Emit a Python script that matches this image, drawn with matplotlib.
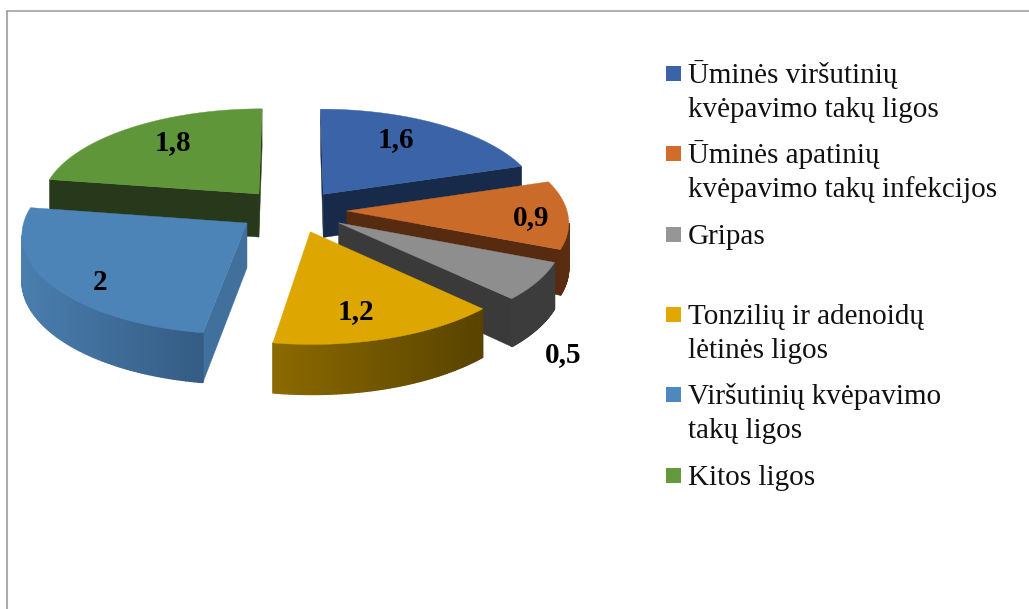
import numpy as np
import matplotlib
matplotlib.use("Agg")
import matplotlib.pyplot as plt
from matplotlib.colors import to_rgb
from matplotlib.patches import Rectangle

categories = ["Ūminės viršutinių\nkvėpavimo takų ligos",
              "Ūminės apatinių\nkvėpavimo takų infekcijos",
              "Gripas",
              "Tonzilių ir adenoidų\nlėtinės ligos",
              "Viršutinių kvėpavimo\ntakų ligos",
              "Kitos ligos"]
values = [1.6, 0.9, 0.5, 1.2, 2, 1.8]
top_colors = ["#3A63A8", "#CB6B2A", "#8E8E8E", "#DDA600", "#4C84B8", "#60963A"]
legend_colors = ["#3A63A8", "#D26C2A", "#969696", "#E2A800", "#4F88BE", "#649A3C"]
wall_left = ["#172A4A", "#5A2D10", "#3C3C3C", "#8C6A00", "#4A7EAE", "#27391A"]
wall_right = ["#172A4A", "#5A2D10", "#3C3C3C", "#584300", "#345C84", "#27391A"]
radial_colors = ["#172A4A", "#572B10", "#3A3A3A", "#584300", "#41709D", "#27391A"]
legend_y = [73.5, 153.5, 234.5, 314.5, 394.5, 475.5]
label_xy = [(396, 139), (531, 217), (563, 354), (356, 311), (100, 281), (173, 142)]
explode = [0.23, 0.24, 0.235, 0.22, 0.26, 0.25]
nudge = [(-1, 0), (-1, -2), (0, -2), (0, -1), (-1, -4), (-1, 0)]

CX, CY, RX, RY, P, DEPTH = 295, 212, 220, 97, 0.10, 44
SERIF = "Liberation Serif"

fig = plt.figure(figsize=(10.29, 6.09), dpi=100)
ax = fig.add_axes([0, 0, 1, 1])
ax.set_xlim(0, 1029)
ax.set_ylim(609, 0)
ax.axis("off")

ax.plot([6.5, 6.5], [609, 10.5], color="#ABABAB", lw=1.5, solid_capstyle="butt", zorder=1)
ax.plot([6, 1029], [10.5, 10.5], color="#9A9A9A", lw=1.1, solid_capstyle="butt", zorder=1)


def project(theta, r, mid, e, off, z=0.0):
    X = e * np.sin(mid) + r * np.sin(theta)
    Y = -(e * np.cos(mid) + r * np.cos(theta))
    s = 1.0 / (1.0 - P * Y)
    return np.array([CX + off[0] + X * RX * s, CY + off[1] + Y * RY * s + z * DEPTH * s])


def area(poly):
    p = np.asarray(poly)
    q = np.roll(p, -1, axis=0)
    return np.sum(p[:, 0] * q[:, 1] - q[:, 0] * p[:, 1])


angles = np.cumsum([0] + list(values)) / np.sum(values) * 2 * np.pi
slices = []
for i in range(len(values)):
    a0, a1 = angles[i], angles[i + 1]
    mid = (a0 + a1) / 2
    slices.append((-np.cos(mid), i, a0, a1, mid))

z = 2.0
for _, i, a0, a1, mid in sorted(slices):
    e, off = explode[i], nudge[i]
    th = np.linspace(a0, a1, 90)
    apex_t = project(a0, 0, mid, e, off)
    apex_b = project(a0, 0, mid, e, off, 1)
    rim_t = np.array([project(t, 1, mid, e, off) for t in th])
    rim_b = np.array([project(t, 1, mid, e, off, 1) for t in th])
    # radial walls
    for a_pt, b_pt, a_low, b_low in ((apex_t, rim_t[0], apex_b, rim_b[0]),
                                      (rim_t[-1], apex_t, rim_b[-1], apex_b)):
        quad = [a_pt, b_pt, b_low, a_low]
        if area(quad) < 0:
            ax.fill(*zip(*quad), color=radial_colors[i], lw=0.3, zorder=z)
            z += 0.01
    # outer wall, shaded across its width
    left, right = np.array(to_rgb(wall_left[i])), np.array(to_rgb(wall_right[i]))
    xs = rim_t[:, 0]
    for k in range(len(th) - 1):
        quad = [rim_t[k], rim_t[k + 1], rim_b[k + 1], rim_b[k]]
        if area(quad) < 0:
            f = (xs[k] - xs.min()) / (xs.max() - xs.min())
            c = left + (right - left) * f
            ax.fill(*zip(*quad), color=tuple(c), lw=1.0, zorder=z)
    z += 0.01
    top = np.vstack([apex_t, rim_t])
    ax.fill(top[:, 0], top[:, 1], color=top_colors[i], lw=0.3, zorder=z)
    z += 0.01

for v, (x, y) in zip(values, label_xy):
    ax.text(x, y + 1, f"{v:g}".replace(".", ","), family=SERIF, weight="bold", fontsize=21,
            ha="center", va="center", color="black", zorder=50)

for name, col, y in zip(categories, legend_colors, legend_y):
    ax.add_patch(Rectangle((666, y - 7.5), 15, 15, facecolor=col, edgecolor="none", zorder=50))
    for k, line in enumerate(name.split("\n")):
        ax.text(688, y + 9.5 + k * 34, line, family=SERIF, fontsize=21, color="#111111",
                ha="left", va="baseline", zorder=50)

fig.savefig("out.png", dpi=100)
